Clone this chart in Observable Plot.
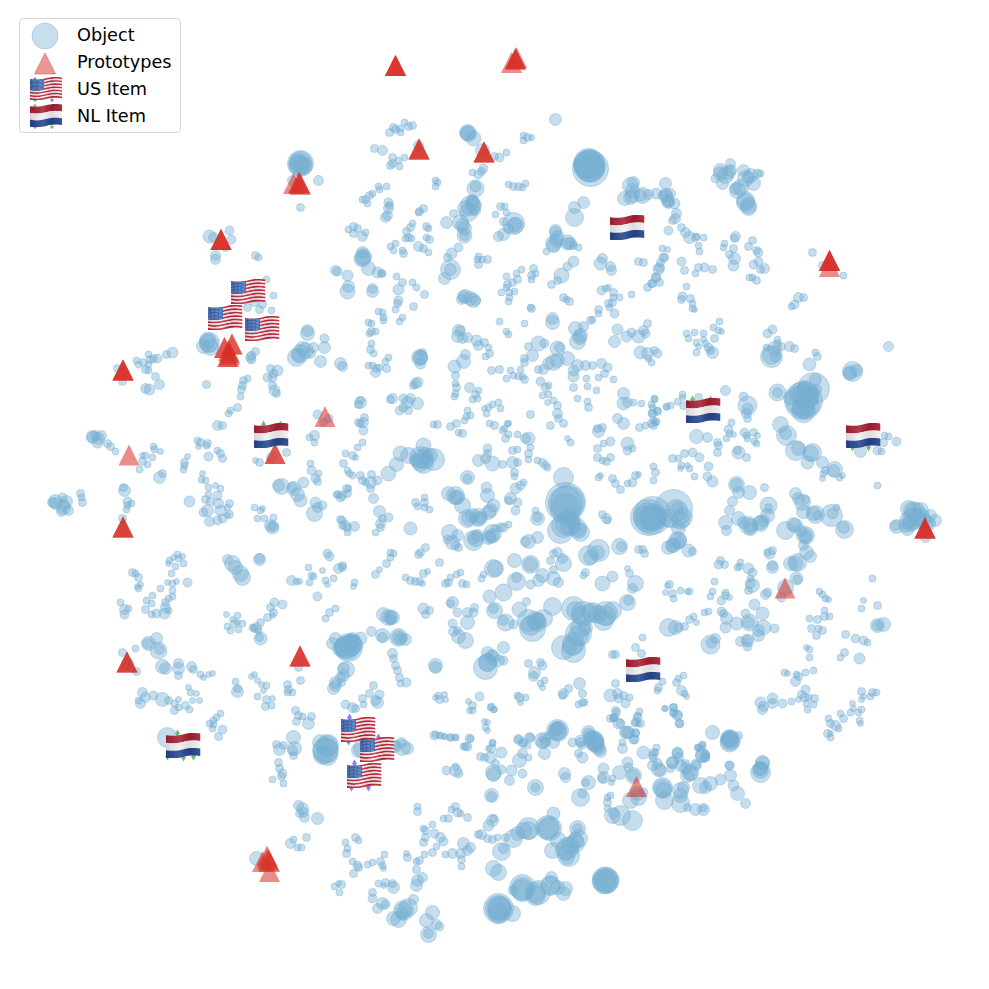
<!DOCTYPE html>
<html><head><meta charset="utf-8">
<script src="https://cdn.jsdelivr.net/npm/d3@7"></script>
<script src="https://cdn.jsdelivr.net/npm/@observablehq/plot@0.6"></script>
<style>
html,body{margin:0;padding:0;background:#fff;overflow:hidden}
#chart{position:relative;width:989px;height:989px}
#chart svg.plot{display:block}
#legend{position:absolute;left:19px;top:18px;width:160px;height:113px;border:1.3px solid #d5d5d5;border-radius:4px;background:rgba(255,255,255,.8);font:17.7px "DejaVu Sans",sans-serif;color:#000}
#legend svg{position:absolute;left:0;top:0}
#legend span{position:absolute;left:57px;line-height:20px;white-space:nowrap}
</style></head><body>
<div id="chart"></div>
<script>
// Objects: flat x, y, radius triples, grouped by region
const objectsNorthWest = [
300,163,12, 300,162,10, 303,165,8, 298,165,9, 318,180,4, 292,180,4, 300,207,3,
209,236,5.5, 213,237,4, 229,230,3.5, 231,239,3.5, 225,247,3, 215,255,4, 215,259,4, 255,255,3, 258,257,2.5,
335,270,4, 337,271,3.5, 347,275,4.5, 348,286,5, 347,291,6.5, 266,279,2.5, 273,295,2.5, 271,310,2.5, 259,309,3, 247,307,3, 254,302,3, 262,304,3,
209,342,9, 203,346,6, 210,347,7, 207,340,7, 250,357,4, 255,351,3, 251,355,3.5, 251,359,3.5,
307,333,6, 307,330,5, 324,338,3.5, 324,347,5, 300,353,8, 296,357,8, 302,348,6, 313,347,4, 310,353,4, 320,361,5, 340,363,5, 342,366,4,
172,352,4.5, 166,354,3, 157,358,3.5, 153,358,3, 148,354,2.5, 150,359,3, 143,362,3, 136,360,2.5, 138,364,2.5, 148,364,2.5, 145,369,3, 148,370,2.5, 155,376,3, 159,384,4, 149,389,4.5, 145,388,4, 122,381,3, 117,368,3,
206,384,3, 243,380,3, 247,378,2.5, 242,385,3, 241,389,3, 240,396,2.5, 237,407,3, 230,410,2.5, 228,413,2.5, 217,425,4, 222,425,3,
270,368,3, 277,370,4.5, 273,373,3.5, 267,377,3.5, 272,377,3.5, 272,385,3, 274,390,4.5, 276,393,3, 317,414,3.5, 328,418,3.5, 323,422,3, 358,404,3, 358,422,3
];
const objectsNorth = [
555,119,5, 389,132,3, 393,127,3, 395,129,3, 400,128,2.5, 400,132,2.5, 404,122,2.5, 408,126,3, 412,125,3, 374,148,3, 382,150,4, 392,157,3, 392,163,3, 390,165,3, 398,160,2.5, 399,166,2.5, 404,157,2.5, 418,145,4,
467,132,7, 468,133,7, 473,138,6.5, 482,150,6, 499,157,3.5, 494,156,3, 506,152,2.5, 483,168,3.5, 481,171,3, 478,174,3.5, 472,172,2.5, 523,135,2.5, 527,137,3, 523,140,2.5, 531,137,2,
589,165,15, 590,168,17, 588,163,14, 435,180,2.5, 437,182,2.5, 435,186,2.5, 475,188,7.5, 475,186,4.5, 508,184,2.5, 513,186,3, 518,186,3, 522,187,2.5, 525,183,2.5, 583,202,5, 574,207,5, 574,217,8,
624,198,6, 630,185,7, 633,182,5, 632,195,6, 642,195,7, 648,194,4, 656,193,4.5, 665,183,5, 665,195,6, 668,202,5,
470,205,9, 472,202,6, 465,208,7, 475,210,4, 453,213,3, 460,222,7, 464,228,6, 464,235,6.5, 464,235,4, 446,222,5, 495,214,2.5, 500,206,3, 504,206,2.5, 503,221,3, 506,212,2.5, 513,223,10, 514,224,6, 503,234,5, 498,236,4, 508,228,4,
419,211,3, 423,208,3, 418,212,2.5, 388,202,3.5, 388,208,4, 387,215,4, 385,217,4, 389,205,3, 378,186,2.5, 386,186,2.5, 379,189,2.5, 372,193,2.5, 369,195,3, 365,199,3, 362,199,2.5, 367,203,2.5,
348,229,2.5, 353,226,3, 357,228,3, 353,233,3, 362,236,4, 365,232,2.5, 406,231,3, 410,227,3, 412,223,2.5, 426,226,3, 428,228,2.5, 405,238,2.5, 408,237,3, 411,238,2.5, 426,237,2.5, 429,239,3,
395,243,2.5, 390,246,2.5, 393,250,2.5, 402,250,2.5, 403,253,3, 418,246,4, 423,248,3, 428,252,2.5, 362,252,5, 362,258,7.5, 368,268,6, 377,272,4.5, 381,273,3, 382,273,2.5,
451,253,4.5, 458,247,3.5, 447,257,3, 450,269,9, 450,269,5, 444,278,5, 478,256,2.5, 477,259,2.5, 482,259,2.5, 487,259,3, 478,264,3,
402,282,3, 396,276,2.5, 398,289,4.5, 372,291,5, 372,288,4, 412,282,2.5, 416,287,2.5, 424,294,3, 398,300,3.5, 397,303,3, 395,309,2.5, 413,306,3, 465,296,6, 473,300,6, 475,300,4, 461,299,4,
506,276,2.5, 516,273,2.5, 521,269,2.5, 512,282,3, 517,279,3, 507,284,3, 506,287,2.5, 514,291,2.5, 509,292,2.5, 501,292,2.5, 509,297,2.5, 508,301,2.5, 533,268,3, 531,275,3, 535,273,2.5, 531,279,2.5,
555,230,5, 557,237,6, 553,243,7, 567,242,6.5, 570,243,5, 573,245,3, 578,247,2.5, 546,251,2.5, 573,261,4.5, 567,266,3.5, 561,275,6.5, 557,280,3, 551,284,3,
600,263,5.5, 602,258,4, 610,266,4, 611,270,4, 638,261,3, 643,262,3, 563,297,3, 569,301,3, 566,299,2.5, 601,290,3.5, 605,288,2.5, 608,287,2, 613,292,3, 613,297,2.5, 619,297,2.5, 631,294,2.5, 608,303,3, 612,302,3, 609,307,2.5, 598,309,3, 598,313,2.5, 614,313,3.5,
647,287,3, 651,283,3, 659,282,3, 655,277,3.5, 658,269,4.5, 660,262,3, 663,257,3.5, 662,248,2.5, 667,249,2, 531,308,3, 530,307,2.5, 552,318,5, 552,322,6, 575,328,6, 583,326,4, 579,337,6, 577,341,7, 590,320,3, 592,319,2.5,
617,329,4.5, 614,341,5, 626,336,4.5, 631,332,3.5, 638,336,5.5, 643,330,4, 647,323,3, 645,333,3.5, 640,352,5.5, 647,353,5, 654,350,3, 657,353,3.5, 648,358,2.5, 651,362,2.5,
378,311,2.5, 382,312,2.5, 383,317,2.5, 383,320,2.5, 402,317,2.5, 399,321,2.5, 499,321,2.5, 524,323,2.5, 368,322,2.5, 371,323,2.5, 371,331,3, 375,331,2.5, 369,333,2.5, 371,343,2.5, 370,349,3, 373,353,2.5,
458,330,5, 460,330,4, 457,336,5, 462,338,4, 467,337,4, 476,340,4.5, 478,345,4, 484,342,3, 488,347,2.5, 489,353,3, 485,356,2.5, 420,357,6, 419,357,7, 422,352,3, 420,363,4.5, 454,366,5.5, 463,361,6, 465,354,4, 455,375,3, 506,331,2.5, 508,334,2.5,
538,343,6.5, 544,343,3.5, 528,346,3, 532,355,5, 524,358,3, 524,362,3, 557,348,6.5, 559,347,4, 567,358,6, 553,362,7, 557,360,6, 548,363,5, 543,369,4, 538,369,3,
577,365,5, 573,370,4.5, 573,376,4.5, 585,365,4, 592,365,3, 601,363,4, 607,367,3.5, 604,373,3, 598,377,2.5, 613,379,2.5, 586,378,2.5, 368,365,2.5, 372,365,2.5, 376,368,3, 375,372,4, 379,367,2.5, 386,368,3, 385,361,2.5, 388,357,2.5,
491,370,3, 499,369,3, 510,370,2.5, 506,378,2.5, 513,375,2.5, 518,376,2.5, 522,376,2.5, 524,379,3, 520,369,2.5, 455,383,2.5, 456,387,3, 455,393,2.5, 454,396,2.5, 469,387,4, 478,390,2.5, 475,394,3, 472,399,2.5, 477,398,2.5,
417,382,4.5, 415,383,4, 413,385,3, 392,398,4, 390,399,3, 360,402,5, 360,400,3, 403,398,3.5, 410,398,4, 407,402,5, 417,403,5, 399,410,3.5, 408,410,3, 403,407,3.5,
467,410,2.5, 470,415,2.5, 466,416,2.5, 488,407,2.5, 484,408,2, 492,404,2.5, 498,402,2.5, 500,408,2.5, 486,413,2.5, 489,423,2.5, 494,425,3, 507,423,2.5, 504,428,2.5, 433,424,2.5, 437,424,3, 450,426,3, 456,423,3, 464,420,2.5, 530,414,3,
540,381,3.5, 548,385,2.5, 545,387,3.5, 548,394,2.5, 542,395,2.5, 553,400,2.5, 547,402,2, 557,405,3, 557,413,4, 558,418,3, 550,425,3, 563,423,3, 573,387,3, 577,398,2.5, 587,401,2.5, 588,407,3, 587,386,2.5, 596,390,2.5,
623,393,5, 623,403,5.5, 627,402,4, 633,402,2.5, 641,403,2.5, 654,399,2.5, 651,404,2.5, 652,413,3.5, 657,410,2.5, 666,407,2, 653,420,2.5, 617,418,4, 623,423,5, 639,427,3, 645,425,2.5, 651,423,3, 655,422,2.5, 597,428,3, 602,427,3, 363,422,4, 364,417,3, 360,423,3
];
const objectsNorthEast = [
720,173,6, 730,163,4, 728,172,6, 715,178,3.5, 722,183,5, 743,170,5, 748,177,5, 753,183,6, 757,173,3.5, 760,173,2.5, 737,190,7, 735,188,5, 745,202,8, 748,205,7,
670,193,4, 663,195,4, 667,201,5, 674,203,4.5, 676,213,4, 675,218,4, 672,220,3, 668,230,3.5, 681,227,3, 685,232,4, 689,237,5, 695,237,3, 703,237,2.5, 696,236,2.5, 698,245,2.5, 699,251,2.5,
735,236,4, 734,238,3, 724,243,2.5, 723,247,2.5, 733,248,3, 729,254,3, 734,258,5, 733,265,4.5, 752,240,3, 748,246,3, 756,250,3, 758,252,3.5, 758,261,3.5, 753,264,3.5, 764,268,4, 760,269,3, 749,277,2.5, 752,277,2.5, 756,280,3,
812,252,3, 843,275,2.5, 822,265,3, 664,257,3, 681,261,3.5, 684,270,3, 659,267,4, 656,277,3.5, 652,283,3, 698,267,3, 704,267,3.5, 712,269,3, 695,273,2.5, 686,286,2.5, 682,296,3.5, 681,299,3, 690,298,3, 692,303,2.5, 692,308,2.5, 694,309,2,
798,297,4, 803,297,3, 794,304,3.5, 791,306,2.5, 713,327,2.5, 719,321,2.5, 718,330,2.5, 721,331,2, 686,333,2.5, 688,338,2.5, 694,332,2.5, 703,333,2.5, 714,338,3, 696,342,2.5, 698,346,2, 703,339,2, 696,352,2.5, 705,343,2.5, 708,347,3.5, 712,352,5, 710,350,3,
772,329,3.5, 767,333,3.5, 777,339,2.5, 766,347,2.5, 774,348,6, 771,356,10, 775,356,4.5, 781,346,3, 789,346,4, 794,348,3, 777,343,3, 815,352,2.5, 817,356,3, 809,364,5.5, 888,346,4, 852,371,9, 849,373,5.5, 856,370,5,
725,390,4, 777,392,7.5, 777,392,4, 790,397,6, 813,388,15, 803,400,18, 800,393,10, 803,407,10, 803,410,11, 815,379,5, 816,389,4, 807,397,10, 805,387,6, 810,393,7,
682,394,2.5, 682,397,2, 654,398,2.5, 677,401,2.5, 698,397,3, 683,405,3, 670,405,2.5, 666,406,2.5, 743,396,3.5, 747,405,8.5, 747,408,4.5, 746,413,4, 747,418,3, 652,407,2.5, 657,411,3, 652,413,3, 656,421,2.5, 653,425,3,
731,422,2.5, 728,429,3.5, 729,433,2.5, 733,434,2, 726,438,2.5, 744,432,3.5, 753,432,3, 757,435,2, 746,435,2.5, 747,438,2.5, 754,441,2.5, 756,443,2.5, 780,424,7, 786,435,9, 785,433,5,
696,436,6, 707,437,4, 717,442,3, 718,445,3, 717,452,3, 738,452,5.5, 737,450,3, 746,457,3, 692,452,3.5, 684,453,3, 699,457,3.5, 672,458,3, 678,458,2.5, 884,435,2.5, 888,436,2.5, 883,442,3, 896,441,3.5, 881,451,2.5, 877,450,3.5, 860,451,5
];
const objectsEast = [
795,450,9, 798,448,6, 812,452,8, 810,453,7, 807,462,5.5, 822,462,5, 834,469,7, 833,470,5, 825,470,3, 823,473,2.5, 822,478,2, 839,477,2.5, 842,475,2, 877,485,2.5, 653,466,2.5, 655,472,3, 653,480,2.5,
681,465,2.5, 687,465,2, 680,468,2, 689,468,2.5, 708,466,3.5, 694,476,2.5, 707,476,3.5, 712,481,4.5, 736,484,7, 738,492,5, 749,492,6, 732,501,4, 764,487,3, 768,505,7.5, 768,507,3, 767,515,6, 729,510,4,
725,522,6, 726,530,4, 738,518,6, 748,525,8, 750,528,6, 760,523,7, 763,520,5, 743,522,5, 795,493,5, 798,498,5, 805,499,3.5, 803,511,6, 815,514,8, 817,515,3.5, 831,515,10, 832,513,4.5, 836,507,2.5, 843,527,5, 844,529,8, 802,502,7,
785,530,8, 793,524,6, 800,530,5, 805,535,8, 805,537,5, 803,545,4, 806,552,6, 810,556,5, 795,563,6.5, 797,562,8, 790,563,6, 769,553,4.5, 772,550,3, 767,552,2.5, 772,565,4, 772,567,5, 796,578,5.5, 797,579,3.5,
718,564,3.5, 720,560,3, 724,564,3, 737,567,2.5, 740,562,2.5, 739,566,2.5, 748,568,4.5, 752,572,3.5, 750,578,2.5, 750,583,4, 752,585,6, 748,590,3, 765,594,4, 767,592,3.5, 785,587,7, 781,597,3.5,
714,581,2.5, 712,591,2.5, 710,596,2.5, 725,592,2.5, 725,595,3, 729,597,2, 721,600,3.5, 721,611,3.5, 723,613,3, 726,618,5, 725,627,4.5, 736,623,5.5, 745,613,3.5, 754,604,4.5, 762,613,5.5, 749,622,7.5, 763,627,6.5, 758,635,5, 774,628,3.5, 747,640,5.5, 740,641,4, 747,646,3.5,
819,591,2.5, 822,594,2.5, 825,598,2.5, 828,599,2, 669,584,3, 667,585,2, 665,592,2, 672,593,3, 673,598,2.5, 680,590,2.5, 687,591,2, 689,591,2.5, 704,612,2.5, 708,611,2.5, 689,619,3, 693,616,2.5, 696,622,2,
668,627,8, 675,627,6, 678,627,3.5, 684,626,3, 710,644,8.5, 715,638,4, 711,642,4.5, 809,618,2.5, 817,619,3, 824,610,2.5, 824,616,3, 829,616,2.5, 811,628,3, 818,628,2.5, 822,630,3, 816,635,3, 877,625,6, 883,624,6, 877,625,4,
845,634,3, 855,638,3.5, 863,640,3.5, 867,642,2.5, 872,578,2.5, 863,600,2, 861,608,2.5, 877,605,3, 806,647,2, 809,649,2.5, 809,657,2.5, 844,652,3, 840,657,2.5, 859,658,4.5, 784,672,2.5, 787,673,2, 796,674,2.5, 798,676,3, 805,672,2.5, 813,670,2.5, 795,681,4,
760,702,4.5, 763,706,4, 762,709,4, 772,698,4.5, 772,703,4, 782,703,3.5, 791,701,2.5, 805,689,3.5, 801,694,3, 804,697,3.5, 808,697,2.5, 814,698,3, 798,699,2, 806,703,2.5, 813,704,2.5, 807,709,2.5,
861,691,3, 872,692,3, 876,692,2.5, 863,696,2, 870,696,2.5, 861,699,2, 852,703,2, 853,708,2, 850,712,2.5, 861,709,2.5, 858,712,2.5, 859,720,2.5, 860,723,2, 840,713,2.5, 843,718,3, 828,718,2.5, 830,723,3, 835,725,4, 838,728,2.5, 827,733,3, 830,737,2.5, 830,733,2,
662,681,2.5, 658,687,3, 657,690,2.5, 676,682,3, 678,678,2.5, 683,675,2.5, 681,690,4, 684,693,2.5, 686,696,2, 665,708,2, 673,707,3, 673,713,2.5, 677,715,4, 679,723,3.5, 712,732,6, 729,738,8, 729,742,8.5, 738,735,3,
655,752,2.5, 652,755,3, 652,765,4, 677,753,4.5, 678,757,4, 672,762,5, 680,765,5, 697,747,2.5, 702,744,2.5, 700,748,3, 702,755,6, 705,754,3, 703,757,3.5, 695,764,4, 685,768,5, 729,765,3.5, 762,763,6, 760,768,6,
908,508,7, 920,510,7, 913,518,10, 910,523,7, 907,528,6, 896,526,6, 895,525,4, 935,520,5, 930,515,5, 925,537,4, 917,517,8, 928,523,6,
673,508,18, 652,515,18, 668,518,8, 677,507,5, 682,517,9, 678,528,6, 677,540,8, 678,542,5, 668,547,6, 672,545,6, 688,550,5.5, 692,551,3, 653,517,12
];
const objectsCentre = [
648,517,17, 647,517,11, 652,517,10, 563,477,9, 565,502,19, 567,502,16, 560,530,12, 567,523,11, 577,527,8, 580,532,8, 572,520,7, 568,517,8,
400,453,6.5, 396,464,6, 388,473,6.5, 408,455,7, 423,445,6.5, 420,457,10, 423,463,9, 433,459,10, 420,462,8, 425,455,7, 415,460,5,
345,453,2.5, 352,455,3, 355,457,2, 343,463,3, 347,470,2.5, 352,475,2.5, 349,473,2.5, 360,475,3, 362,480,3, 371,474,3, 370,482,5, 377,480,3.5, 370,488,3, 365,482,2.5, 346,488,3, 342,495,3.5, 373,498,4,
379,511,5, 388,517,3.5, 382,518,3, 380,523,4, 380,527,3, 375,532,2.5, 410,528,5.5, 415,502,3, 417,506,2.5, 424,497,2.5, 424,502,3, 424,507,2.5, 429,509,2.5, 345,525,4, 342,520,3, 347,527,3, 354,526,4, 347,532,2.5,
478,460,5, 485,458,4, 487,448,3.5, 487,453,3, 492,463,6.5, 502,464,3, 512,462,5, 517,462,3, 512,450,3, 517,449,2.5, 508,434,2.5, 517,434,2.5, 505,438,3, 502,430,2.5, 508,423,2, 528,438,5.5, 525,438,4, 530,447,2.5, 528,453,3, 528,459,2.5, 514,472,3, 514,476,2.5, 467,477,6, 467,478,3.5,
537,460,2.5, 542,462,3, 545,465,3, 547,467,2.5, 523,482,2.5, 520,485,3.5, 515,488,4.5, 510,498,5, 517,502,3.5, 515,510,3.5, 508,500,3,
455,495,8, 448,493,6, 457,497,6, 462,505,7, 467,518,8, 478,517,8, 480,517,5, 487,495,6, 486,487,4.5, 493,505,5.5, 488,512,6, 472,515,6,
449,532,7, 447,539,3.5, 457,535,5, 452,542,6, 455,545,3.5, 458,547,3, 473,540,9, 473,538,4.5, 477,535,5, 492,533,8, 490,537,5, 500,527,3.5, 503,527,3.5, 508,524,2.5, 495,528,3, 488,537,6, 537,518,6, 537,517,3.5, 535,510,2.5, 528,541,6, 537,537,5, 525,541,4,
602,514,3, 606,518,4, 607,520,2.5, 600,475,2, 598,477,2.5, 612,478,3, 615,483,3, 620,489,3, 627,483,2.5, 632,482,3.5, 635,475,3, 638,474,2, 597,448,3, 597,457,3, 602,460,2.5, 606,461,3, 610,457,3, 603,443,2.5, 610,441,3.5, 598,431,5,
627,443,5.5, 627,450,3.5, 632,448,2.5, 570,442,2.5, 567,438,2, 462,433,3, 458,432,2.5, 363,430,3.5, 362,442,2.5, 357,447,2.5, 619,546,7, 621,546,4, 638,549,3, 642,549,3, 644,553,3,
588,555,9, 598,550,10, 597,552,6, 590,557,6, 585,572,3, 583,575,2.5, 557,552,4, 553,553,3, 550,560,3, 562,558,4, 563,563,7, 553,569,3, 495,568,7, 493,568,8, 514,560,6, 530,564,8, 530,564,6,
390,552,2.5, 393,553,2.5, 386,563,3, 379,569,2, 375,574,3, 390,557,2.5, 425,547,3, 420,552,3, 418,554,3, 439,562,3, 342,567,3, 354,582,2.5, 353,586,2,
405,577,2.5, 410,580,3, 415,581,3, 419,581,3, 423,573,3, 427,571,2, 422,583,2, 445,583,3, 450,577,2.5, 448,582,3, 456,574,2.5, 460,572,2.5, 462,583,3, 466,584,2.5, 481,578,2.5, 483,574,2.5,
542,575,6, 538,580,5, 530,584,3.5, 516,581,8, 516,577,4, 503,592,7.5, 489,596,5.5, 553,578,6, 558,582,4, 602,583,6.5, 612,576,4.5, 627,568,2, 629,573,3, 635,583,7, 632,588,4, 627,602,7, 628,600,4,
494,610,7, 493,608,4, 505,622,7.5, 503,620,4, 513,624,3.5, 519,609,6.5, 526,601,3, 552,606,8, 543,618,8, 537,622,8, 528,620,10, 532,628,12, 537,620,7,
573,608,11, 583,613,11, 592,612,9, 605,613,11, 612,610,8, 603,620,9, 578,633,12, 573,643,10, 563,647,11, 573,650,11, 580,627,9, 585,627,6, 642,637,2.5, 635,647,3, 641,653,3, 612,654,3, 615,654,3,
452,602,5, 450,603,3, 423,608,4.5, 429,610,3, 425,614,3, 457,612,3.5, 467,612,4, 473,612,3.5, 474,607,3, 467,622,6, 452,623,3.5, 453,631,4, 465,640,7, 458,636,6, 457,630,3,
383,614,6, 388,617,7, 392,617,6, 390,619,4, 371,631,4, 382,635,6, 398,637,8, 400,638,5, 405,639,5, 382,637,4, 348,647,13, 352,644,9, 343,647,8, 360,638,5.5, 350,642,7,
392,653,4, 393,658,3, 395,665,3, 397,670,3, 399,677,3, 406,682,3.5, 400,683,2.5, 435,665,6, 435,667,5, 487,652,5, 492,657,6, 485,667,11, 498,660,5, 503,647,5, 503,660,3.5, 487,662,8,
528,663,3, 540,662,3, 534,672,5, 533,676,4, 542,665,3.5, 544,680,2.5, 542,687,2, 540,683,2.5, 579,683,5, 582,693,3, 568,688,3, 563,693,4, 562,695,3, 582,702,3, 578,704,2.5, 584,702,2.5,
610,695,5.5, 615,683,3, 617,693,4, 618,698,3.5, 625,703,3.5, 629,697,2.5, 623,695,3, 346,669,7, 343,668,5, 343,675,5, 341,682,3, 373,685,3, 369,693,3, 379,694,3.5, 375,700,4, 377,702,5, 362,698,3, 363,704,2.5, 345,704,3.5, 352,707,4, 355,708,3,
435,697,2, 438,695,2.5, 439,699,3, 444,694,2, 445,699,2, 472,705,3, 479,696,3.5, 472,710,2.5, 468,701,2, 469,710,2, 517,695,2.5, 519,697,3.5, 525,697,2.5, 520,702,2, 490,707,2.5, 493,709,2.5,
615,710,3, 613,717,3, 613,718,2.5, 620,723,3.5, 627,732,5.5, 635,722,2.5, 637,715,2.5, 635,732,3, 633,739,3.5, 638,723,2, 557,730,8, 557,728,6, 548,735,3, 543,738,3.5, 542,742,5, 530,737,3, 518,739,3, 522,743,3, 527,745,2.5,
588,733,4.5, 593,740,8, 595,743,7, 572,742,3.5, 580,742,4, 598,748,4, 435,734,2.5, 444,736,2, 439,735,2, 450,737,2, 455,737,2, 470,738,2.5, 465,746,3, 492,742,2.5, 488,748,2, 484,721,2, 487,722,2, 485,727,2.5, 487,730,2
];
const objectsWest = [
92,436,5, 98,438,5, 97,442,4.5, 101,435,4, 107,443,3, 110,446,3, 115,451,2.5, 95,435,4, 153,446,2.5, 154,449,2.5, 160,451,2, 145,455,2.5, 142,455,2, 152,457,2.5, 142,461,3, 147,464,2.5, 139,469,2.5, 159,477,5, 162,473,3,
197,440,2.5, 200,442,3, 207,443,3, 198,446,2, 206,445,2.5, 187,456,2, 208,456,3.5, 217,450,2.5, 220,453,3, 222,458,3, 184,462,3, 183,469,2.5, 184,465,2.5, 202,473,2, 201,479,2.5, 205,480,2.5,
208,487,2.5, 215,485,2, 220,488,2.5, 217,495,3.5, 208,494,2.5, 205,499,3, 210,501,3, 218,503,4, 229,503,3, 227,507,2.5, 203,512,3.5, 207,510,5, 220,510,4.5, 229,514,3, 222,518,3.5, 209,521,4, 217,520,3.5, 227,515,2, 189,501,4.5,
124,490,5, 123,487,3, 127,501,3.5, 131,503,2.5, 127,505,2.5, 126,509,2.5, 122,518,3, 55,501,6, 62,497,3.5, 66,501,5, 63,507,6, 61,511,4, 68,510,4, 52,502,4, 80,493,3, 81,497,2.5, 82,502,3,
314,435,4, 309,437,2.5, 314,442,2.5, 286,452,3, 255,460,2, 259,462,3, 271,457,4, 310,463,2.5, 311,470,3.5, 318,473,2.5, 315,478,3.5, 317,481,3, 281,486,7, 278,485,5, 303,482,4.5, 293,488,6, 297,494,6, 300,500,5.5, 292,487,4,
315,502,4.5, 322,505,3.5, 317,507,4, 314,513,7, 338,494,3, 347,493,3, 348,488,2.5, 336,494,2.5, 340,497,3.5, 340,519,3, 342,525,3, 254,507,2.5, 260,510,2.5, 262,508,2, 257,518,2.5, 264,518,2.5, 273,517,2.5, 270,525,5, 272,527,5.5, 273,526,4,
232,563,7, 227,559,4, 240,573,7, 242,577,7, 235,567,6, 259,559,5, 259,558,4, 177,554,2.5, 173,557,2, 169,560,2.5, 168,563,2, 175,566,2.5, 178,558,2.5, 182,556,2, 183,563,2.5, 171,573,2.5, 167,582,2, 172,583,2.5, 176,581,2, 187,582,3.5, 172,590,2.5, 172,596,2.5, 168,598,2.5, 165,602,3, 165,607,4, 168,610,2.5, 164,613,4.5, 160,588,2.5,
132,572,3, 138,577,3, 135,573,2.5, 140,584,2, 138,588,2.5, 137,586,2, 152,595,2.5, 146,600,2.5, 151,603,2.5, 145,609,3, 151,614,2.5, 156,613,3.5, 120,602,2.5, 124,609,4, 128,608,2.5, 124,614,3.5,
226,614,2, 232,619,2, 237,615,2.5, 227,626,2.5, 230,630,2.5, 234,623,3, 237,622,2, 238,629,2.5, 242,623,2.5, 252,627,2.5, 256,627,4, 254,628,3, 260,622,3, 258,630,2.5, 260,638,5.5, 259,637,3, 267,617,3, 270,607,3, 272,615,2, 274,602,3.5, 282,604,3.5, 273,612,3,
291,580,4, 296,581,2.5, 299,581,2, 308,567,2.5, 322,570,2, 311,575,2.5, 313,576,2.5, 309,582,2.5, 325,580,2.5, 327,584,2, 333,578,2.5, 317,596,3.5, 327,553,3.5, 329,556,3.5, 338,568,4, 342,565,3, 335,608,2.5, 329,612,3, 325,618,2.5,
148,643,6, 156,638,5, 158,650,7.5, 159,649,4, 147,643,4, 135,648,2.5, 122,652,3, 127,663,5, 136,671,3, 162,666,6, 165,668,5, 178,663,4, 178,668,5, 178,675,3, 191,666,4, 193,669,3, 200,674,2.5, 203,677,2, 208,674,2, 212,673,2,
235,681,2.5, 237,691,5, 237,688,3, 251,676,2, 254,674,2, 257,680,2, 261,684,2, 266,685,2.5, 263,690,2, 266,699,3, 272,698,2, 257,696,2.5, 265,706,3, 271,705,2.5, 287,684,3, 288,689,3, 287,692,2.5, 292,692,2.5, 300,680,3, 298,667,3,
142,692,4, 145,697,4, 140,703,4, 153,695,3.5, 162,699,6, 168,700,3, 138,700,2.5, 188,687,2, 190,692,2.5, 196,693,2, 192,700,2, 199,700,2, 178,699,2, 174,703,2.5, 185,705,3, 178,707,2.5, 189,709,2.5, 174,710,3, 167,737,9,
220,713,2.5, 216,717,2.5, 213,720,2.5, 209,723,2.5, 213,724,2.5, 222,729,3.5, 212,728,2.5, 218,736,3, 295,710,3, 298,715,3, 302,716,2.5, 296,721,3, 311,716,3, 308,723,5, 335,682,5, 333,688,5, 335,685,5, 340,677,4, 347,647,11, 335,638,5, 332,643,5, 352,640,7
];
const objectsSouthWest = [
293,737,6, 276,744,3, 279,749,5, 283,745,3, 292,750,4, 294,748,6, 293,755,3, 325,750,12, 327,745,10, 327,755,9, 320,742,7, 278,762,3, 279,768,3, 282,773,3.5, 281,776,3, 272,779,2.5, 283,783,2.5,
298,805,4, 302,808,5, 303,812,4, 304,817,4, 317,818,5, 299,813,3, 290,843,4, 293,839,2.5, 297,847,2.5, 301,847,2.5, 306,837,3, 256,858,6,
401,742,4, 402,747,7, 407,748,5, 395,745,4, 363,748,9, 358,750,6, 434,735,3.5, 440,735,2.5, 444,736,2, 450,737,3, 455,737,2.5, 463,746,2.5, 467,746,3.5, 469,738,3.5, 446,770,3.5, 455,770,5, 458,773,3.5, 455,766,2.5,
417,806,2.5, 417,811,3, 455,806,3, 451,809,2.5, 457,812,3.5, 460,813,2.5, 467,817,3, 443,818,2.5, 448,818,3, 432,824,2.5, 425,830,3, 423,828,2.5, 425,837,3, 423,842,3, 434,833,3.5, 440,837,4, 443,841,3.5, 436,846,2.5, 478,834,3,
463,843,5, 470,847,4, 467,850,4, 460,853,4, 452,853,4, 445,854,2.5, 461,859,3, 461,866,2.5, 432,852,3, 424,854,2.5, 419,860,3, 416,861,2.5, 407,857,3, 406,853,2,
355,837,3, 358,840,2.5, 345,842,2.5, 347,848,2.5, 346,853,3, 352,861,2.5, 357,865,3.5, 358,867,3, 367,864,2.5, 372,862,2.5, 380,861,3, 384,854,2.5, 382,865,2.5, 383,868,2, 353,873,3, 334,886,2.5, 341,884,3, 338,883,2, 339,892,2.5,
378,883,2.5, 385,882,3, 392,883,3, 393,887,5, 383,885,2, 416,869,3, 422,877,4, 417,880,5, 416,885,5, 372,892,3, 372,898,3.5, 377,908,4, 382,903,5, 385,904,3.5, 398,919,7, 393,918,6, 403,910,9, 408,907,8, 413,899,4, 402,913,5,
432,912,6, 426,920,6, 436,924,4, 439,926,3.5, 428,934,7, 428,933,4
];
const objectsSouthEast = [
491,706,2.5, 494,709,2, 480,756,3, 484,757,3, 492,743,2.5, 491,748,3.5, 490,757,5, 501,752,4.5, 495,763,3, 493,772,7, 493,774,6, 501,769,3.5, 511,770,4.5, 522,773,3.5, 509,780,4,
518,739,4, 523,742,3.5, 529,737,4, 542,740,7, 557,730,10, 556,729,5, 553,742,5, 545,742,4, 522,753,4, 519,760,6, 528,757,2.5, 544,753,5, 564,773,5, 565,777,4, 535,787,7, 535,787,3.5, 491,795,6, 491,796,4, 580,797,8, 582,793,3.5,
580,740,4.5, 581,745,3, 588,732,6, 593,740,9, 595,743,8, 598,748,6, 600,751,5, 578,753,3, 582,757,4.5, 610,718,3, 614,717,3, 616,712,3, 618,723,4.5, 637,717,3.5, 639,711,2.5, 635,722,3.5, 640,723,3, 625,732,5, 628,732,5, 635,733,3, 634,739,3.5, 622,742,2.5, 622,748,4,
664,708,2, 673,707,3, 673,712,3, 677,714,3.5, 679,723,3, 730,740,9, 729,738,6, 643,752,5.5, 656,747,2.5, 653,752,3, 653,758,3, 657,763,4, 658,769,6, 660,770,5, 677,752,4.5, 672,762,5, 670,768,3, 685,763,3,
698,747,2.5, 702,745,2.5, 702,755,6, 705,757,3.5, 696,765,4, 690,772,7, 687,775,6, 729,765,3.5, 730,775,5, 733,785,4.5, 737,793,6, 745,803,4, 720,779,4.5, 710,783,6, 700,785,7, 705,787,5,
662,787,9, 663,790,7, 664,800,8, 680,790,7, 680,803,8, 683,787,5, 695,809,5, 703,809,5, 703,808,2.5, 687,807,3, 760,772,9, 760,768,6, 762,762,6, 627,762,4.5, 619,772,6, 633,775,7, 628,767,3.5, 603,768,4.5, 603,777,5, 602,778,3.5, 588,782,6, 585,782,3, 612,778,2.5, 611,782,2,
630,800,7, 638,797,7, 637,793,6, 643,792,3.5, 607,797,2.5, 610,795,2.5, 607,802,3, 607,808,2.5, 612,815,7, 620,815,9, 613,813,4, 632,820,9, 492,820,5, 493,818,3, 488,825,4.5, 481,834,4, 497,837,2.5, 492,839,3, 487,838,3,
523,830,7, 528,828,10, 513,838,8, 517,833,6, 505,837,3, 553,813,5.5, 547,827,11, 549,828,11, 577,828,7, 577,828,4, 558,840,7, 552,850,7, 567,848,10, 568,855,10, 578,838,8, 575,843,8, 567,857,6, 501,851,8, 503,848,4, 493,868,7, 498,872,7,
605,880,12.5, 605,880,9, 522,887,12, 522,890,10, 538,892,11, 535,895,9, 550,885,9, 551,877,5, 563,893,6, 565,888,6, 557,887,6, 513,890,4, 498,908,14, 499,908,11, 498,913,9, 512,913,7
];
// Extra overlapping objects in the darkest cores of the clusters
const objectsDense = [
300,165,9, 298,162,8, 467,133,6, 589,166,14, 588,164,13, 590,168,13, 473,205,7, 468,212,8, 472,200,5, 462,225,6, 515,225,7,
555,232,5, 556,240,6, 553,245,6, 568,243,5, 632,190,6, 630,197,6, 640,195,5, 725,175,7, 720,170,6, 730,170,5, 745,178,7, 750,175,6, 740,187,7, 745,200,8, 748,207,7, 668,200,5, 666,195,5,
363,256,7, 362,258,6, 470,298,6, 463,296,5, 580,335,6, 800,400,14, 805,395,12, 808,405,10, 803,408,9, 771,355,8, 850,372,6, 420,357,6, 305,350,7, 298,355,6, 208,343,8, 55,503,5, 63,505,5, 92,437,5,
915,512,9, 920,518,9, 908,520,8, 925,522,7, 912,510,8, 905,525,6, 648,517,14, 652,517,12, 676,510,10, 680,520,8, 678,540,7, 673,545,6, 565,503,16, 565,508,14, 563,525,11, 570,525,9, 578,530,7,
420,458,8, 425,460,7, 430,455,6, 455,497,6, 468,518,6, 478,518,6, 490,510,6, 475,538,7, 492,535,6, 580,615,8, 597,614,8, 605,615,9, 590,612,8, 575,610,8, 578,635,9, 572,645,9, 530,625,9, 535,620,8,
345,647,10, 350,645,10, 340,648,7, 390,617,6, 398,637,6, 487,662,8, 492,655,5, 325,750,11, 327,745,9, 322,755,8, 395,746,5, 605,880,12, 605,880,11, 605,880,10, 522,888,10, 535,892,9, 550,885,8, 498,908,12, 499,908,10,
565,850,9, 570,845,8, 548,828,9, 575,840,7, 528,830,8, 403,910,7, 595,740,7, 590,737,6, 557,731,8, 633,775,5, 662,788,8, 680,795,6, 690,773,6, 760,770,7, 730,740,7, 729,738,7, 795,525,6, 805,535,6, 750,525,6, 760,522,6, 736,484,5, 813,513,6, 748,622,5, 758,630,5, 747,640,4
];

// Prototypes: x and y, with repeats where several overlap
const prototypeX = [122.5,122.5,122.5,122.5, 220.5,220.5,220.5,220.5, 395,395,395,395, 515,515,515,516,511, 418.5,418.5,418.5, 483.5,483.5,483.5, 293,298,300,299,299, 829,829,829,829,829, 231.5,231.5,224,224,228,227,229,229,228, 324.5, 128.5, 274.5,274.5, 122.5,122.5,122.5, 299.5,299.5,299.5, 126.5,126.5,126.5, 266.5,269,269,262,267,268, 636, 784.5, 924.5,924.5,924.5,924.5];
const prototypeY = [369.5,369.5,369.5,369.5, 239,239,239,239, 65,65,65,65, 58,58,59,57,62, 148.5,148.5,148.5, 151.5,151.5,151.5, 183,182,184,183,182, 260,260,260,260,266, 343.5,343.5,347,347,356,356,354,352,350, 416, 454.5, 453,453, 526.5,526.5,526.5, 655.5,655.5,655.5, 661.5,661.5,661.5, 855.5,861,871,861,858,860, 786, 587.5, 527.5,527.5,527.5,527.5];

// Flag positions
const usItemX = [247.5,224.5,261.5,357.5,376.5,363.5];
const usItemY = [291,317,328,729,749,775];
const nlItemX = [626.5,702.5,862.5,270.5,642.5,182.5];
const nlItemY = [227,410,435,435,669,745];

// Small markers peeking out from behind the flags
const usMarkX = [349,348,378,354,351,368];
const usMarkY = [717,741,737,763,787,787];
const nlMarkX = [692,710,852,868,263,280,167,183,193,177];
const nlMarkY = [399,399,447,447,424,424,756,757,756,733];

const legendLabels = ["Object","Prototypes","US Item","NL Item"];

const objectColor = "#74add1", protoColor = "#d73027";

// Waved flag pictures as inline SVG images
function wavedBand(y0, y1, x0 = 0, x1 = 70) {
  const off = t => 2.0 * Math.sin(2 * Math.PI * t) - 3.5 * t + 3.5;
  const n = 14, top = [], bot = [];
  for (let i = 0; i <= n; i++) {
    const x = x0 + (x1 - x0) * i / n, t = x / 70;
    top.push(`${x.toFixed(1)},${(y0 + off(t)).toFixed(1)}`);
    bot.unshift(`${x.toFixed(1)},${(y1 + off(t)).toFixed(1)}`);
  }
  return `M${top.join("L")}L${bot.join("L")}Z`;
}
const shade = `<defs><linearGradient id="g" x1="0" x2="1" y1="0" y2="0"><stop offset="0" stop-color="#000" stop-opacity=".12"/><stop offset=".4" stop-color="#fff" stop-opacity=".12"/><stop offset=".7" stop-color="#000" stop-opacity=".08"/><stop offset="1" stop-color="#fff" stop-opacity=".08"/></linearGradient></defs>`;
function svgUri(body) {
  return "data:image/svg+xml," + encodeURIComponent(`<svg xmlns="http://www.w3.org/2000/svg" viewBox="0 0 70 50" width="70" height="50">${shade}${body}<path d="${wavedBand(1, 46)}" fill="url(#g)"/></svg>`);
}
function usFlag() {
  let b = "";
  const h = 45 / 13;
  for (let i = 0; i < 13; i++) b += `<path d="${wavedBand(1 + i * h, 1 + (i + 1) * h + .2)}" fill="${i % 2 ? "#f4efef" : "#c5233a"}"/>`;
  b += `<path d="${wavedBand(1, 1 + 7 * h, 0, 31)}" fill="#2c5aa8"/>`;
  for (let r = 0; r < 8; r++) for (let c = 0; c < 11; c++) {
    const x = 1.8 + c * 2.7, t = x / 70, yo = 2.0 * Math.sin(2 * Math.PI * t) - 3.5 * t + 3.5;
    b += `<circle cx="${x.toFixed(1)}" cy="${(3 + r * 2.9 + yo).toFixed(1)}" r=".7" fill="#cfe0f5"/>`;
  }
  return svgUri(b);
}
function nlFlag() {
  const h = 45 / 3;
  return svgUri(`<path d="${wavedBand(1, 1 + h + .2)}" fill="#a61f33"/><path d="${wavedBand(1 + h, 1 + 2 * h + .2)}" fill="#f2f0f0"/><path d="${wavedBand(1 + 2 * h, 46)}" fill="#24468f"/>`);
}
const usSrc = usFlag(), nlSrc = nlFlag();

const triangle = {
  draw(ctx, size) {
    const h = Math.sqrt(size / Math.PI);
    ctx.moveTo(0, -h); ctx.lineTo(h, h); ctx.lineTo(-h, h); ctx.closePath();
  }
};

const objects = d3.merge([objectsNorthWest, objectsNorth, objectsNorthEast, objectsEast, objectsCentre, objectsWest, objectsSouthWest, objectsSouthEast, objectsDense].map(a => d3.range(0, a.length, 3).map(i => ({x: a[i], y: a[i + 1], r: a[i + 2]}))));
const zip = (xs, ys) => xs.map((x, i) => ({x, y: ys[i]}));

const plot = Plot.plot({
  width: 989, height: 989, margin: 0,
  x: {domain: [0, 989], range: [0, 989], axis: null},
  y: {domain: [0, 989], range: [0, 989], axis: null},
  r: {type: "linear", domain: [2, 20], range: [3, 21]},
  marks: [
    Plot.dot(objects, {x: "x", y: "y", r: "r", fill: objectColor, stroke: objectColor, fillOpacity: 0.42, strokeOpacity: 0.42, strokeWidth: 1}),
    Plot.dot(zip(prototypeX, prototypeY), {x: "x", y: "y", r: 10.5, symbol: triangle, fill: protoColor, fillOpacity: 0.55}),
    Plot.dot(zip(usMarkX, usMarkY), {x: "x", y: "y", r: 2.5, symbol: "diamond", fill: "#5a4cf0", fillOpacity: .7}),
    Plot.dot(zip(nlMarkX, nlMarkY), {x: "x", y: "y", r: 2.5, symbol: "diamond", fill: "#4daf4a", fillOpacity: .8}),
    Plot.image(zip(usItemX, usItemY), {x: "x", y: "y", src: usSrc, width: 35, height: 25}),
    Plot.image(zip(nlItemX, nlItemY), {x: "x", y: "y", src: nlSrc, width: 35, height: 25})
  ]
});
const chart = document.getElementById("chart");
chart.appendChild(plot);

// Legend, laid over the top-left corner as in the reference
const legend = document.createElement("div");
legend.id = "legend";
const rowTops = [6, 33, 60, 87];
legend.innerHTML = `<svg width="160" height="113">
  <circle cx="25" cy="17" r="13" fill="${objectColor}" fill-opacity=".4" stroke="${objectColor}" stroke-opacity=".4"/>
  <path d="M25,34L35.5,55H14.5Z" fill="${protoColor}" fill-opacity=".5" stroke="${protoColor}" stroke-opacity=".4"/>
  <path d="M15,58l2,2-2,2-2-2ZM32,79l2,2-2,2-2-2ZM15,79l2,2-2,2-2-2ZM32,58l2,2-2,2-2-2Z" fill="#5a4cf0" fill-opacity=".7"/>
  <path d="M15,85l2,2-2,2-2-2ZM32,106l2,2-2,2-2-2ZM15,106l2,2-2,2-2-2ZM32,85l2,2-2,2-2-2Z" fill="#4daf4a" fill-opacity=".8"/>
  <image href="${usSrc}" x="10" y="58" width="32" height="23"/>
  <image href="${nlSrc}" x="10" y="85" width="32" height="23"/>
</svg>` + legendLabels.map((t, i) => `<span style="top:${rowTops[i]}px">${t}</span>`).join("");
chart.appendChild(legend);
</script>
</body></html>
